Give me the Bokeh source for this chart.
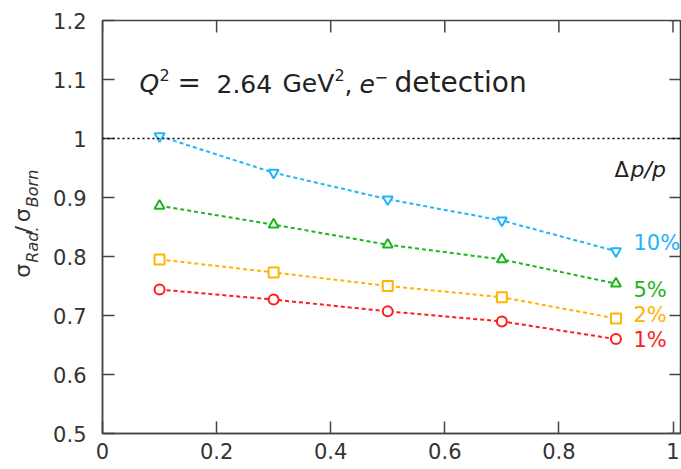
import math
from bokeh.plotting import figure
from bokeh.layouts import row
from bokeh.models import Range1d, FixedTicker, Label, Span, ColumnDataSource
from bokeh.embed import file_html
from bokeh.resources import INLINE

# ---- data ----
x_vals = [0.1, 0.3, 0.5, 0.7, 0.9]
dp_10 = [1.004, 0.942, 0.897, 0.861, 0.809]
dp_5 = [0.886, 0.854, 0.820, 0.795, 0.754]
dp_2 = [0.795, 0.773, 0.750, 0.731, 0.695]
dp_1 = [0.744, 0.727, 0.707, 0.690, 0.660]
series_names = ["10%", "5%", "2%", "1%"]
x_ticks = [0, 0.2, 0.4, 0.6, 0.8, 1.0]
x_tick_labels = ["0", "0.2", "0.4", "0.6", "0.8", "1"]
y_ticks = [0.5, 0.6, 0.7, 0.8, 0.9, 1.0, 1.1, 1.2]
y_tick_labels = ["0.5", "0.6", "0.7", "0.8", "0.9", "1", "1.1", "1.2"]

FONT = "DejaVu Sans"
AX = "#444444"
TXT = "#222222"
MID = 0.36   # distance (in em) from baseline to the "middle" anchor

LEFT_W = 48
MAIN_W = 681 - LEFT_W
H = 469
BL = 102 - LEFT_W   # left border of main figure
PX_X = 570.5        # px per x unit
PX_Y = 590.0        # px per y unit
X0_PX = LEFT_W + BL
Y_BOT_PX = 433

x_end = (MAIN_W - BL) / PX_X
p = figure(width=MAIN_W, height=H, x_range=Range1d(0, x_end), y_range=Range1d(0.5, 1.2),
           output_backend="svg", toolbar_location=None,
           min_border_left=BL, min_border_right=0, min_border_top=20, min_border_bottom=36)
p.grid.visible = False
p.outline_line_color = AX
p.outline_line_width = 1.5
p.background_fill_color = "white"
p.border_fill_color = "white"

def style_axis(ax, ticks, labels):
    ax.ticker = FixedTicker(ticks=ticks)
    ax.major_label_overrides = {t: l for t, l in zip(ticks, labels)}
    ax.major_tick_in = 12
    ax.major_tick_out = 0
    ax.minor_tick_in = 0
    ax.minor_tick_out = 0
    ax.major_tick_line_color = AX
    ax.major_tick_line_width = 1.5
    ax.axis_line_color = AX
    ax.axis_line_width = 1.5
    ax.major_label_text_font = FONT
    ax.major_label_text_color = "#333333"
    ax.major_label_text_font_size = "21px"

style_axis(p.xaxis[0], x_ticks, x_tick_labels)
p.xaxis[0].major_label_standoff = 9
style_axis(p.yaxis[0], y_ticks, y_tick_labels)
p.yaxis[0].major_label_standoff = 16

# mirrored inward ticks on top and right borders
tick_len_x = 12 / PX_X
tick_len_y = 12 / PX_Y
y_top = p.y_range.end
p.segment(x0=x_ticks, y0=[y_top] * len(x_ticks), x1=x_ticks,
          y1=[y_top - tick_len_y] * len(x_ticks), line_color=AX, line_width=1.5)
p.segment(x0=[x_end] * len(y_ticks), y0=y_ticks, x1=[x_end - tick_len_x] * len(y_ticks),
          y1=y_ticks, line_color=AX, line_width=1.5)

# reference line at 1
p.add_layout(Span(location=1.0, dimension="width", line_color="black",
                  line_dash="2 3", line_width=1.5))

colors = ["#22b4f8", "#1db51d", "#ffb400", "#ff1c1c"]
markers = ["inverted_triangle", "triangle", "square", "circle"]
all_series = [dp_10, dp_5, dp_2, dp_1]
label_base_px = [250, 297, 322, 347]

def ypx(ypix):
    return 0.5 + (Y_BOT_PX - ypix) / PX_Y

def xpx(xpix):
    return (xpix - X0_PX) / PX_X

def lab(xpix, base_ypix, text, size, color=TXT, style="normal"):
    """Label in the main plot, given left x and baseline y in page pixels."""
    return Label(x=xpx(xpix), y=ypx(base_ypix - MID * size), text=text, text_color=color,
                 text_font=FONT, text_font_size=f"{size}px", text_font_style=style,
                 text_baseline="middle", text_align="left")

for vals, c, m, name, ly in zip(all_series, colors, markers, series_names, label_base_px):
    src = ColumnDataSource(dict(x=x_vals, y=vals))
    p.line("x", "y", source=src, line_color=c, line_width=2, line_dash="4 3")
    p.scatter("x", "y", source=src, marker=m, size=10, line_color=c, line_width=2,
              fill_color="white")
    p.add_layout(lab(633, ly, name, 21, color=c))

# Δp/p
p.add_layout(lab(614, 177, "Δ", 21))
p.add_layout(lab(630, 177, "p/p", 22, style="italic"))

# title: Q² = 2.64 GeV², e⁻ detection
title_pieces = [("Q", 139, 92, 25, "italic"),
                ("2", 159, 80, 16, "normal"),
                ("=", 177, 92, 28, "normal"),
                ("2.64", 216, 92, 25, "normal"),
                ("GeV", 282, 92, 25, "normal"),
                ("2", 334, 80, 16, "normal"),
                (",", 344, 92, 25, "normal"),
                ("e", 359, 92, 25, "italic"),
                ("−", 374, 82, 16, "normal"),
                ("detection", 394, 92, 28, "normal")]
for t, xp_, yp_, fs, st in title_pieces:
    p.add_layout(lab(xp_, yp_, t, fs, style=st))

# left strip with the rotated y-axis title σ_Rad./σ_Born
yl = figure(width=LEFT_W, height=H, x_range=Range1d(0, LEFT_W), y_range=Range1d(0, H),
            output_backend="svg", toolbar_location=None, x_axis_type=None, y_axis_type=None,
            min_border_left=0, min_border_right=0, min_border_top=0, min_border_bottom=0)
yl.grid.visible = False
yl.outline_line_color = None
yl.background_fill_color = "white"
yl.border_fill_color = "white"
# (text, baseline x, start y, size, style)
ylabel_pieces = [("σ", 30, 292, 22, "normal"),
                 ("Rad.", 38, 275, 16, "italic"),
                 ("/", 31, 242, 22, "normal"),
                 ("σ", 30, 229, 22, "normal"),
                 ("Born", 38, 212, 16, "italic")]
for t, bx, sy, fs, st in ylabel_pieces:
    yl.add_layout(Label(x=bx - MID * fs, y=H - sy, text=t, angle=math.pi / 2,
                        text_color="#333333", text_font=FONT, text_font_size=f"{fs}px",
                        text_font_style=st, text_baseline="middle", text_align="left"))

layout = row(yl, p, spacing=0)
open("out.html", "w").write(file_html(layout, INLINE))
